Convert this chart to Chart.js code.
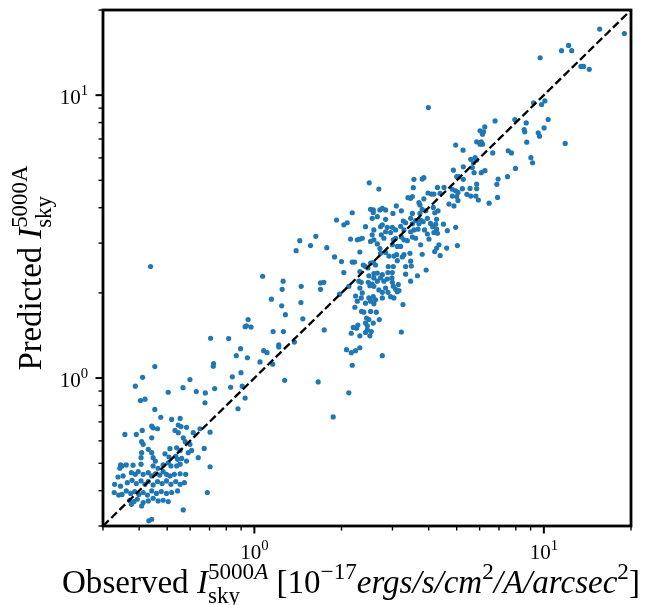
<!DOCTYPE html>
<html>
<head>
<meta charset="utf-8">
<script src="https://cdn.jsdelivr.net/npm/chart.js@4.4.0/dist/chart.umd.min.js"></script>
<style>
  html, body { margin: 0; padding: 0; background: #fff; }
</style>
</head>
<body>
<canvas id="chart" width="668" height="605"></canvas>
<script>
// Observed vs predicted sky brightness (log-log)
// faint end cluster
const lowObs = [0.404,0.419,0.675,0.453,0.475,0.518,0.554,0.442,0.447,0.463,0.546,0.558,0.583,0.410,0.649,0.357,0.391,0.442,0.532,0.546,0.615,0.703,0.408,0.413,0.568,0.577,0.511,0.539,0.554,0.430,0.442,0.671,0.599,0.607,0.591,0.408,0.406,0.447,0.455,0.491,0.507,0.535,0.543,0.561,0.583,0.640,0.345,0.349,0.343,0.361,0.381,0.406,0.447,0.465,0.484,0.504,0.515,0.539,0.554,0.703,0.338,0.352,0.376,0.388,0.397,0.413,0.430,0.442,0.455,0.471,0.484,0.497,0.511,0.529,0.554,0.579,0.329,0.345,0.364,0.378,0.391,0.406,0.419,0.430,0.447,0.463,0.480,0.497,0.515,0.535,0.554,0.573,0.328,0.340,0.349,0.361,0.374,0.386,0.399,0.413,0.427,0.442,0.459,0.477,0.497,0.518,0.543,0.688,0.371,0.384,0.394,0.413,0.430,0.447,0.465,0.484,0.504,0.376,0.408,0.568,0.432,0.442,0.438,0.706,0.723,0.721,0.453,0.411,0.599,0.388,0.567,0.504,0.630,0.677,0.729];
const lowPred = [0.833,0.842,0.818,0.775,0.727,0.714,0.720,0.676,0.667,0.662,0.682,0.674,0.670,0.653,0.662,0.632,0.632,0.615,0.653,0.641,0.641,0.644,0.596,0.583,0.615,0.596,0.563,0.567,0.555,0.560,0.545,0.564,0.583,0.555,0.545,0.545,0.523,0.523,0.509,0.540,0.526,0.529,0.516,0.520,0.509,0.523,0.493,0.489,0.480,0.493,0.492,0.496,0.489,0.480,0.493,0.502,0.489,0.489,0.496,0.486,0.447,0.451,0.463,0.457,0.467,0.457,0.463,0.451,0.459,0.454,0.467,0.457,0.451,0.457,0.459,0.457,0.421,0.415,0.427,0.435,0.424,0.433,0.421,0.431,0.419,0.431,0.424,0.433,0.421,0.431,0.421,0.427,0.394,0.386,0.388,0.399,0.391,0.397,0.388,0.394,0.386,0.399,0.391,0.397,0.391,0.394,0.399,0.394,0.370,0.366,0.373,0.363,0.368,0.376,0.368,0.370,0.366,0.358,0.353,0.342,0.313,0.317,2.48,1.383,1.125,1.101,1.098,1.006,0.988,0.936,0.925,0.891,0.896,0.886,0.918];

// between 0.8 and 2
const midObs = [1.068,1.257,1.451,1.692,1.737,1.247,1.692,1.145,1.448,1.243,1.280,0.951,0.929,0.939,0.974,1.470,1.161,1.260,1.743,0.815,1.375,1.214,1.214,0.896,1.077,1.106,0.866,0.946,1.046,1.157,0.839,0.899,1.273,1.661,0.828,0.908,0.929,0.878,1.872,1.394,1.435,1.563,1.630,1.779];
const midPred = [2.29,2.20,2.11,2.17,2.18,2.06,2.06,1.90,1.85,1.80,1.675,1.61,1.52,1.53,1.515,1.62,1.46,1.46,1.48,1.38,1.34,1.31,1.289,1.27,1.25,1.23,1.20,1.18,1.14,1.12,1.01,1.045,0.982,0.969,0.928,0.936,0.850,0.779,0.729,2.82,3.06,2.94,3.17,2.89];

// main cloud, lower half
const coreObs = [1.892,2.000,2.178,2.219,2.314,2.378,2.421,2.520,2.575,2.622,2.729,2.840,2.916,3.034,3.100,3.286,3.447,3.244,2.037,2.314,2.466,2.587,2.659,2.767,2.901,3.019,2.893,2.996,3.118,3.331,3.466,3.485,3.659,3.331,2.486,2.587,2.987,2.729,2.296,2.340,2.120,1.969,2.474,2.553,2.506,2.587,2.659,2.802,2.879,2.996,3.142,3.019,3.466,2.692,2.840,2.893,2.767,3.076,3.118,3.158,2.314,2.359,2.237,2.340,2.267,2.224,2.486,2.575,2.622,2.520,2.587,2.956,3.034,2.767,2.421,3.261,2.346,2.389,2.520,2.638,2.441,2.486,2.421,2.575,2.701,2.278,2.455,2.196,2.254,2.455,2.534,2.421,2.161,2.314,2.506,3.219,2.081,2.161,2.237,2.314,2.767,2.178,2.120];
const corePred = [2.68,2.58,2.57,2.57,2.79,2.51,2.48,2.55,2.56,2.51,2.76,2.78,2.70,2.70,2.73,2.73,2.76,2.68,2.36,2.38,2.45,2.34,2.35,2.32,2.48,2.48,2.36,2.36,2.60,2.48,2.59,2.49,2.30,2.33,2.30,2.26,2.26,2.26,2.20,2.18,2.11,1.98,2.18,2.15,2.12,2.11,2.20,2.20,2.24,2.18,2.14,2.11,2.20,2.05,2.08,2.01,2.01,2.06,2.02,2.04,2.08,2.00,1.95,1.92,1.87,1.78,1.92,1.94,1.89,1.87,1.83,1.94,1.92,1.92,1.84,1.82,1.72,1.71,1.72,1.71,1.63,1.61,1.565,1.565,1.61,1.54,1.53,1.51,1.50,1.48,1.46,1.45,1.44,1.41,1.41,1.455,1.26,1.23,1.25,1.28,1.20,1.11,0.887];

// main cloud, upper half
const upperObs = [2.494,2.692,3.559,3.541,3.393,3.466,3.514,3.703,3.733,3.093,2.520,2.575,2.575,2.714,2.767,2.840,3.219,3.514,3.011,2.178,3.733,2.659,2.840,2.553,1.922,2.093,2.037,2.421,2.729,2.767,2.879,2.996,3.201,3.270,3.331,3.466,3.514,3.607,3.703,2.587,2.553,2.840,2.956,3.076,3.286,3.466,3.559,3.675,2.149,2.267,2.314,2.359,2.520,2.587,2.745,2.802,3.019,3.076,3.219,3.286,3.376,3.514,3.607,2.659,2.714,2.996,3.118,3.201,3.753,4.010,4.264,4.342,4.617,5.027,3.799,4.196,4.384,3.921];
const upperPred = [4.90,4.66,5.04,4.71,4.34,4.32,4.38,4.17,4.09,4.06,3.95,3.93,3.85,3.93,3.98,3.93,3.90,3.82,3.82,3.84,3.82,3.72,3.64,3.67,3.62,3.54,3.48,3.43,3.43,3.48,3.41,3.41,3.44,3.59,3.54,3.67,3.51,3.60,3.51,3.34,3.21,3.29,3.27,3.34,3.34,3.29,3.34,3.36,3.10,3.08,3.10,3.12,3.04,3.08,3.21,3.12,3.08,3.12,3.15,3.08,3.06,3.15,3.12,2.98,2.87,2.96,2.92,2.92,2.96,3.10,2.88,2.96,2.88,2.94,2.74,2.80,2.71,2.41];

// bright end
const brightObs = [3.990,9.215,10.08,9.82,6.784,7.937,8.69,10.35,6.25,6.02,6.19,6.14,8.55,8.59,10.02,9.56,9.66,5.86,6.08,6.02,6.14,8.73,11.85,4.96,5.26,6.66,7.53,7.73,9.02,9.14,5.59,5.79,5.86,5.71,5.27,5.66,4.87,6.08,6.26,5.74,7.98,5.00,5.09,5.27,6.95,7.49,6.88,3.80,3.85,4.29,4.52,4.83,5.23,5.56,5.86,5.86,3.98,4.09,4.17,4.38,4.96,5.05,5.42,5.59,5.82,5.94,5.00,4.83,3.85,4.70,4.89,5.05,6.47,6.92,3.80,3.91,4.15,4.31,4.20,3.75,3.83,3.96,4.26,4.06,4.23,4.50,4.96,4.13,4.26,3.87,3.96,4.17,4.29,4.64,15.59,18.97,12.18,11.51,12.48,9.71,13.43,13.72,14.35];
const brightPred = [9.04,9.39,9.54,9.27,8.11,8.20,7.98,8.20,7.72,7.48,7.42,7.28,7.56,7.42,7.66,7.36,7.16,6.84,6.84,6.71,6.71,6.82,6.75,6.66,6.39,6.25,6.36,6.25,6.01,5.77,5.93,6.02,5.90,5.77,5.58,5.55,5.43,5.32,5.41,5.32,5.51,5.15,5.15,5.04,5.05,5.15,4.84,5.05,5.11,4.72,4.72,4.65,4.67,4.68,4.85,4.67,4.51,4.47,4.47,4.50,4.59,4.53,4.46,4.40,4.40,4.26,4.38,4.40,4.30,4.12,4.06,4.24,4.15,4.35,3.95,3.90,4.01,3.90,3.84,3.62,3.57,3.67,3.64,3.52,3.50,3.50,3.41,3.43,3.36,3.34,3.23,3.27,3.25,3.32,17.13,16.52,14.99,14.36,14.36,13.56,12.64,12.64,12.34];

// one-to-one reference line and axis ticks
const diagonal = [0.3, 20];
const axisRange = [0.3, 20];
const majorTicks = [1, 10];
const majorExp = ['0', '1'];
const minorTicks = [0.3, 0.4, 0.5, 0.6, 0.7, 0.8, 0.9, 2, 3, 4, 5, 6, 7, 8, 9, 20];

const SERIF = '"Liberation Serif", "Times New Roman", serif';

const groups = [[lowObs, lowPred], [midObs, midPred], [coreObs, corePred], [upperObs, upperPred], [brightObs, brightPred]];
const points = [];
groups.forEach(([xs, ys]) => {
    xs.forEach((v, i) => {
        if (ys[i] !== undefined) points.push({ x: v, y: ys[i] });
    });
});

function fontStr(size, italic) {
    return (italic ? 'italic ' : '') + size + 'px ' + SERIF;
}

// draws a run of simple math text (sup/sub stacked), returns its width
function richText(ctx, parts, x, y, size, draw) {
    let cx = x;
    parts.forEach(p => {
        if (p.sup || p.sub) {
            let w = 0;
            [['sup', -0.42], ['sub', 0.3]].forEach(([k, dy]) => {
                if (!p[k]) return;
                let sx = cx;
                p[k].forEach(q => {
                    ctx.font = fontStr(size * 0.7, q.it);
                    if (draw) ctx.fillText(q.t, sx, y + dy * size);
                    sx += ctx.measureText(q.t).width;
                });
                w = Math.max(w, sx - cx);
            });
            cx += w;
        } else {
            ctx.font = fontStr(size, p.it);
            if (draw) ctx.fillText(p.t, cx, y);
            cx += ctx.measureText(p.t).width;
        }
    });
    return cx - x;
}

const xTitle = [
    { t: 'Observed ' },
    { t: 'I', it: true },
    { sup: [{ t: '5000' }, { t: 'A', it: true }], sub: [{ t: 'sky' }] },
    { t: ' [10' },
    { sup: [{ t: '\u221217' }] },
    { t: 'ergs/s/cm', it: true },
    { sup: [{ t: '2' }] },
    { t: '/A/arcsec', it: true },
    { sup: [{ t: '2' }] },
    { t: ']' }
];
const yTitle = [
    { t: 'Predicted ' },
    { t: 'I', it: true },
    { sup: [{ t: '5000A' }], sub: [{ t: 'sky' }] }
];

const framePlugin = {
    id: 'frame',
    afterDraw(chart) {
        const { ctx, chartArea: a, scales } = chart;
        const sx = scales.x, sy = scales.y;
        ctx.save();
        ctx.strokeStyle = '#000';
        ctx.fillStyle = '#000';
        ctx.lineWidth = 2.8;
        ctx.strokeRect(a.left, a.top, a.right - a.left, a.bottom - a.top);

        const seg = (x1, y1, x2, y2, w) => {
            ctx.lineWidth = w;
            ctx.beginPath();
            ctx.moveTo(x1, y1);
            ctx.lineTo(x2, y2);
            ctx.stroke();
        };
        majorTicks.forEach(v => {
            const px = sx.getPixelForValue(v);
            const py = sy.getPixelForValue(v);
            seg(px, a.bottom, px, a.bottom + 7.5, 2);
            seg(a.left, py, a.left - 7.5, py, 2);
        });
        minorTicks.forEach(v => {
            const px = sx.getPixelForValue(v);
            const py = sy.getPixelForValue(v);
            seg(px, a.bottom, px, a.bottom + 4.5, 1.4);
            seg(a.left, py, a.left - 4.5, py, 1.4);
        });

        // tick labels 10^n
        ctx.textBaseline = 'alphabetic';
        ctx.textAlign = 'left';
        majorTicks.forEach((v, i) => {
            const lab = [{ t: '10' }, { sup: [{ t: majorExp[i] }] }];
            const w = richText(ctx, lab, 0, 0, 21, false);
            const px = sx.getPixelForValue(v);
            richText(ctx, lab, px - w / 2, a.bottom + 33, 21, true);
            const py = sy.getPixelForValue(v);
            richText(ctx, lab, 88 - w, py + 8.5, 21, true);
        });

        // x title
        let w0 = richText(ctx, xTitle, 0, 0, 24, false);
        let fs = 24 * 578 / w0;
        richText(ctx, xTitle, 62, 593, fs, true);

        // y title
        w0 = richText(ctx, yTitle, 0, 0, 24, false);
        fs = 24 * 205 / w0;
        ctx.translate(41, (a.top + a.bottom) / 2);
        ctx.rotate(-Math.PI / 2);
        const wy = richText(ctx, yTitle, 0, 0, fs, false);
        richText(ctx, yTitle, -wy / 2, 0, fs, true);
        ctx.restore();
    }
};

new Chart(document.getElementById('chart').getContext('2d'), {
    type: 'scatter',
    data: {
        datasets: [
            {
                type: 'line',
                data: diagonal.map(v => ({ x: v, y: v })),
                borderColor: '#000',
                borderWidth: 2.3,
                borderDash: [8, 3.5],
                pointRadius: 0,
                fill: false,
                order: 0
            },
            {
                data: points,
                backgroundColor: '#1f77b4',
                borderWidth: 0,
                pointRadius: 2.6,
                order: 1
            }
        ]
    },
    options: {
        responsive: false,
        animation: false,
        events: [],
        layout: { padding: { left: 103, right: 37, top: 10, bottom: 79 } },
        plugins: { legend: { display: false }, tooltip: { enabled: false } },
        scales: {
            x: { type: 'logarithmic', min: axisRange[0], max: axisRange[1], display: false },
            y: { type: 'logarithmic', min: axisRange[0], max: axisRange[1], display: false }
        }
    },
    plugins: [framePlugin]
});
</script>
</body>
</html>
